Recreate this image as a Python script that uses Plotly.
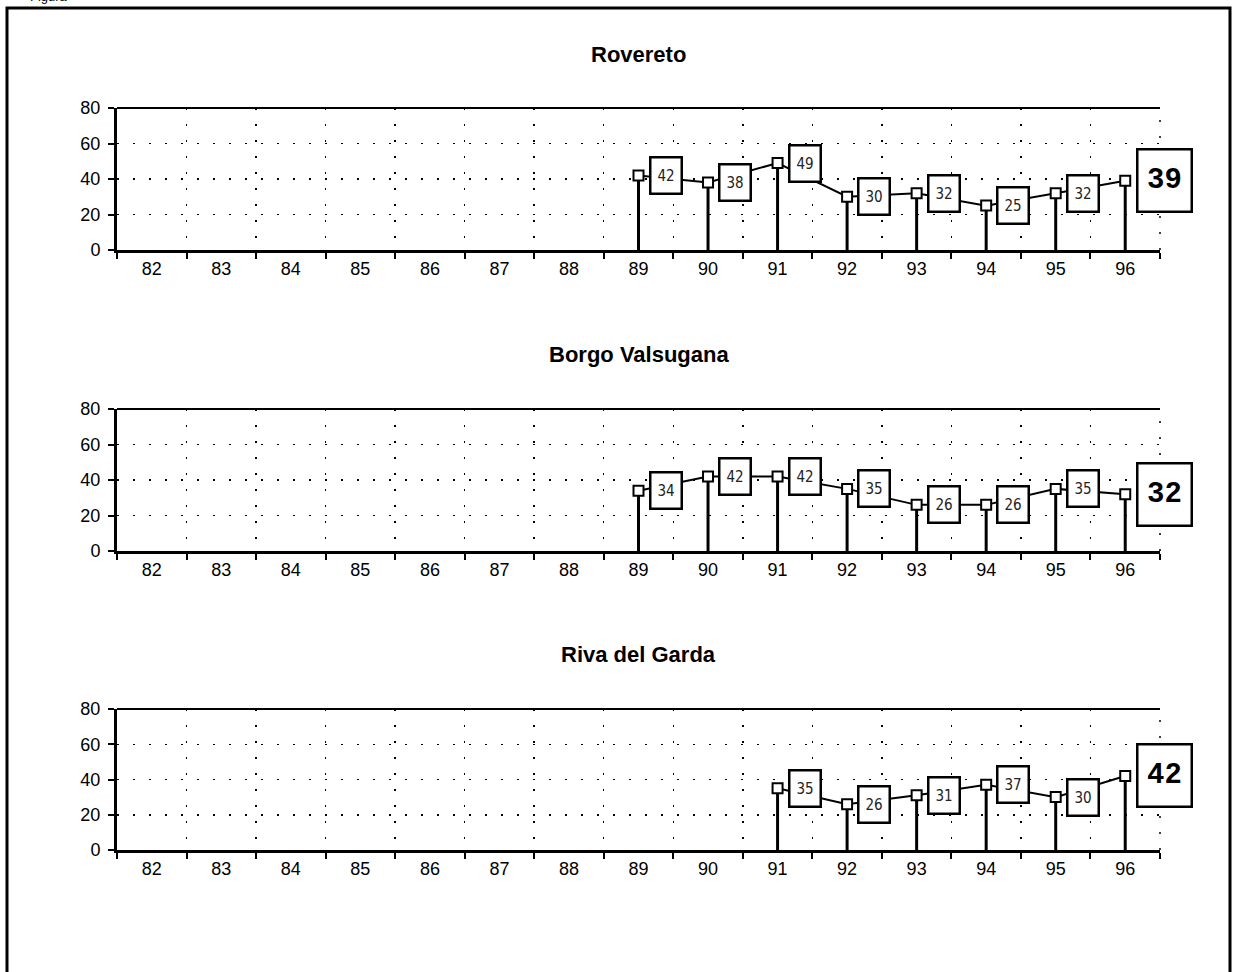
import plotly.graph_objects as go

# ---------------- data ----------------
years = ["82", "83", "84", "85", "86", "87", "88", "89",
         "90", "91", "92", "93", "94", "95", "96"]
y_tick_vals = [0, 20, 40, 60, 80]

titles = ["Rovereto", "Borgo Valsugana", "Riva del Garda"]

rovereto_years = ["89", "90", "91", "92", "93", "94", "95", "96"]
rovereto_vals = [42, 38, 49, 30, 32, 25, 32, 39]

borgo_years = ["89", "90", "91", "92", "93", "94", "95", "96"]
borgo_vals = [34, 42, 42, 35, 26, 26, 35, 32]

riva_years = ["91", "92", "93", "94", "95", "96"]
riva_vals = [35, 26, 31, 37, 30, 42]

series = [(rovereto_years, rovereto_vals),
          (borgo_years, borgo_vals),
          (riva_years, riva_vals)]

# ---------------- layout geometry (pixels) ----------------
W, H = 1234, 972
PL, PR = 117, 1160
panels_px = [(108, 250, 54), (409, 551, 355), (709, 850, 654)]


def py(px):
    return 1 - px / H


def px_x(px):
    return (px - PL) / (PR - PL)


fig = go.Figure()
layout_axes = {}

for i, ((xs, vs), (top, bot, ttl)) in enumerate(zip(series, panels_px)):
    sfx = "" if i == 0 else str(i + 1)
    xa, ya = "x" + sfx, "y" + sfx

    # connecting line + stems
    fig.add_trace(go.Scatter(
        x=xs, y=vs, xaxis=xa, yaxis=ya, mode="lines",
        line=dict(color="black", width=2),
        error_y=dict(type="data", symmetric=False, array=[0] * len(vs),
                     arrayminus=vs, thickness=3, width=0, color="black"),
        hoverinfo="skip", showlegend=False, cliponaxis=False))
    # markers on top
    fig.add_trace(go.Scatter(
        x=xs, y=vs, xaxis=xa, yaxis=ya, mode="markers",
        marker=dict(symbol="square", size=10, color="white",
                    line=dict(color="black", width=2)),
        hoverinfo="skip", showlegend=False, cliponaxis=False))

    # boxed value labels (category position = index in category array)
    for j, (x, v) in enumerate(zip(xs, vs)):
        last = j == len(vs) - 1
        cx = years.index(x)
        if last:
            fig.add_annotation(
                x=cx, y=v, xref=xa, yref=ya, text=str(v), showarrow=False,
                xanchor="left", yanchor="middle", xshift=11,
                width=52, height=60, align="center", valign="middle",
                bgcolor="white", bordercolor="black", borderwidth=2.5, borderpad=0,
                font=dict(family="Liberation Mono", size=29, color="black",
                          weight="bold"))
        else:
            fig.add_annotation(
                x=cx, y=v, xref=xa, yref=ya, text=str(v), showarrow=False,
                xanchor="left", yanchor="middle", xshift=10,
                width=29, height=34, align="center", valign="middle",
                bgcolor="white", bordercolor="black", borderwidth=2.5, borderpad=0,
                font=dict(family="DejaVu Sans Condensed, DejaVu Sans", size=15,
                          color="#222222", weight="normal"))

    # panel title
    fig.add_annotation(
        x=0.5, y=py(ttl), xref="paper", yref="paper", text="<b>%s</b>" % titles[i],
        showarrow=False, xanchor="center", yanchor="middle",
        font=dict(family="Liberation Sans", size=22, color="black"))

    # top border line of plot area
    fig.add_shape(type="line", xref=xa + " domain", yref=ya + " domain",
                  x0=0, x1=1, y0=1, y1=1, line=dict(color="black", width=2))
    # dotted right edge of plot area
    fig.add_shape(type="line", xref=xa + " domain", yref=ya + " domain",
                  x0=1, x1=1, y0=0, y1=1, layer="below",
                  line=dict(color="black", width=1.5, dash="2px,14px"))

    layout_axes["xaxis" + sfx] = dict(
        domain=[0, 1], anchor=ya, type="category", automargin=False,
        categoryorder="array", categoryarray=years, range=[-0.5, len(years) - 0.5],
        tickson="boundaries", ticks="outside", ticklen=6, tickwidth=2,
        tickcolor="black", showline=True, linecolor="black", linewidth=3,
        showgrid=True, gridcolor="black", gridwidth=1.5, griddash="2px,14px",
        tickfont=dict(family="Liberation Sans", size=18, color="black"),
        fixedrange=True, zeroline=False)
    layout_axes["yaxis" + sfx] = dict(
        domain=[py(bot), py(top)], anchor=xa, range=[0, 80], automargin=False,
        tickvals=y_tick_vals, ticks="outside", ticklen=6, tickwidth=2,
        tickcolor="black", showline=True, linecolor="black", linewidth=3,
        showgrid=True, gridcolor="black", gridwidth=1.5, griddash="2px,14px",
        zeroline=False, ticklabelstandoff=4,
        tickfont=dict(family="Liberation Sans", size=18, color="black"),
        fixedrange=True)

# outer frame
fig.add_shape(type="rect", xref="paper", yref="paper",
              x0=px_x(7), x1=px_x(1230), y0=py(990), y1=py(8),
              line=dict(color="black", width=3), fillcolor="rgba(0,0,0,0)",
              layer="above")

# cut-off figure caption at the very top
fig.add_annotation(x=px_x(28), y=py(-3), xref="paper", yref="paper",
                   text="Figura", showarrow=False, xanchor="left",
                   yanchor="middle",
                   font=dict(family="Liberation Sans", size=13, color="black"))

fig.update_layout(
    width=W, height=H,
    margin=dict(l=PL, r=W - PR, t=0, b=0, autoexpand=False),
    paper_bgcolor="white", plot_bgcolor="white",
    showlegend=False,
    **layout_axes)

fig.write_html(
    "out.html",
    config={"displayModeBar": False, "staticPlot": True},
    post_script=(
        "document.documentElement.style.margin='0';"
        "document.body.style.margin='0';document.body.style.overflow='hidden';"
        "var d=document.getElementById('{plot_id}');"
        "d.style.position='fixed';d.style.top='0px';d.style.left='0px';"
    ))
